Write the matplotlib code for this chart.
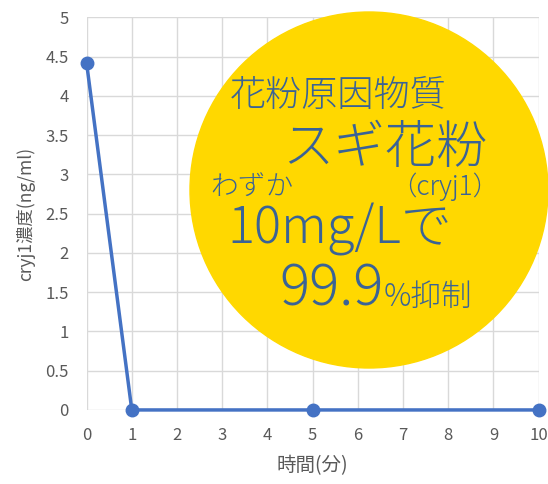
import matplotlib
matplotlib.use("Agg")
import matplotlib.pyplot as plt
from matplotlib.patches import Ellipse

plt.rcParams['font.family'] = ['Noto Sans CJK JP', 'DejaVu Sans']

# datos
time_min = [0, 1, 5, 10]
cryj1 = [4.42, 0, 0, 0]
x_ticks = list(range(0, 11))
y_ticks = [0, 0.5, 1, 1.5, 2, 2.5, 3, 3.5, 4, 4.5, 5]
y_tick_labels = ["0", "0.5", "1", "1.5", "2", "2.5", "3", "3.5", "4", "4.5", "5"]

fig = plt.figure(figsize=(5.48, 4.84), dpi=100)
ax = fig.add_axes([0.158, 0.153, 0.825, 0.811])

ax.plot(time_min, cryj1, color="#4472C4", linewidth=2.5, marker="o",
        markersize=9, clip_on=False, zorder=3)

ax.set_xlim(0, 10)
ax.set_ylim(0, 5)
ax.set_xticks(x_ticks)
ax.set_yticks(y_ticks)
ax.set_yticklabels(y_tick_labels)
ax.grid(True, color="#d9d9d9", linewidth=1)
ax.set_axisbelow(True)
for s in ax.spines.values():
    s.set_visible(False)
ax.tick_params(length=0, colors="#595959", labelsize=12)
ax.tick_params(axis="x", pad=12)
ax.tick_params(axis="y", pad=13)
ax.set_xlabel("時間(分)", color="#595959", fontsize=14, labelpad=8)
ax.set_ylabel("cryj1濃度(ng/ml)", color="#595959", fontsize=12.5, labelpad=7)

# circulo amarillo
circ = Ellipse((369 / 548, 1 - 190 / 484), 358 / 548, 356 / 484,
               transform=fig.transFigure, color="#FFD800", zorder=5)
fig.patches.append(circ)

tc = "#3A6396"
def txt(x, y, s, size, **kw):
    fig.text(x / 548, 1 - y / 484, s, fontsize=size, color=tc,
             va="baseline", ha="left", weight="light", zorder=6, **kw)

txt(230, 106, "花粉原因物質", 26)
txt(282, 163, "スギ花粉", 37)
txt(210, 196, "わずか", 20)
txt(390, 195, "（cryj1）", 19)
txt(227, 243, "10mg/Lで", 36.5)
txt(279, 306, "99.9", 40.5)
txt(384, 306, "%抑制", 22)

fig.savefig("out.png", dpi=100)
